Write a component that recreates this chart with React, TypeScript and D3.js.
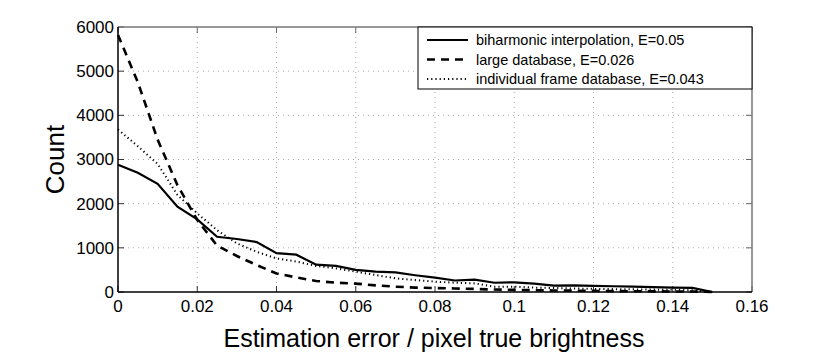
import React from "react";
import { scaleLinear, line } from "d3";

const xs = [
  0, 0.005, 0.01, 0.015, 0.02, 0.025, 0.03, 0.035, 0.04, 0.045, 0.05, 0.055,
  0.06, 0.065, 0.07, 0.075, 0.08, 0.085, 0.09, 0.095, 0.1, 0.105, 0.11, 0.115,
  0.12, 0.125, 0.13, 0.135, 0.14, 0.145, 0.15,
];

const biharmonic = [
  2880, 2700, 2450, 1930, 1645, 1250, 1200, 1130, 880, 845, 620, 590, 500, 460,
  445, 380, 325, 260, 280, 210, 220, 190, 145, 150, 140, 130, 120, 110, 100, 95,
  0,
];

const largeDb = [
  5820, 4750, 3450, 2420, 1630, 1050, 815, 610, 420, 330, 250, 210, 190, 150,
  120, 100, 90, 80, 70, 55, 50, 40, 35, 30, 25, 20, 18, 15, 12, 10, 0,
];

const frameDb = [
  3680, 3300, 2900, 2200, 1780, 1400, 1100, 910, 760, 690, 590, 535, 460, 385,
  310, 270, 235, 210, 195, 120, 120, 100, 90, 80, 70, 65, 60, 55, 50, 40, 0,
];

const xTicks = [0, 0.02, 0.04, 0.06, 0.08, 0.1, 0.12, 0.14, 0.16];
const yTicks = [0, 1000, 2000, 3000, 4000, 5000, 6000];

const series = [
  { name: "biharmonic interpolation, E=0.05", values: biharmonic, width: 2.2, dash: "none" },
  { name: "large database, E=0.026", values: largeDb, width: 2.6, dash: "8,6" },
  { name: "individual frame database, E=0.043", values: frameDb, width: 2, dash: "1.2,3" },
];

const App = () => {
  const width = 830;
  const height = 363;
  const margin = { top: 27, right: 78, bottom: 71, left: 118 };
  const innerWidth = width - margin.left - margin.right;
  const innerHeight = height - margin.top - margin.bottom;

  const xScale = scaleLinear().domain([0, 0.16]).range([0, innerWidth]);
  const yScale = scaleLinear().domain([0, 6000]).range([innerHeight, 0]);
  const font = "'Liberation Sans', Arial, Helvetica, sans-serif";

  const makeLine = (vals) =>
    line<number>()
      .x((_, i) => xScale(xs[i]))
      .y((d) => yScale(d))(vals);

  return (
    <svg
      width={width}
      height={height}
      style={{ position: "absolute", left: 0, top: 0, background: "#fff" }}
      fontFamily={font}
    >
      <g transform={`translate(${margin.left},${margin.top})`}>
        {/* grid */}
        {xTicks.slice(1, -1).map((t) => (
          <line
            key={"gx" + t}
            x1={xScale(t)}
            x2={xScale(t)}
            y1={0}
            y2={innerHeight}
            stroke="#aaa"
            strokeWidth={1}
            strokeDasharray="1,4"
          />
        ))}
        {yTicks.slice(1, -1).map((t) => (
          <line
            key={"gy" + t}
            x1={0}
            x2={innerWidth}
            y1={yScale(t)}
            y2={yScale(t)}
            stroke="#aaa"
            strokeWidth={1}
            strokeDasharray="1,4"
          />
        ))}
        {/* ticks */}
        {xTicks.map((t) => (
          <g key={"tx" + t} transform={`translate(${xScale(t)},0)`}>
            <line y1={innerHeight} y2={innerHeight - 6} stroke="#333" />
            <line y1={0} y2={6} stroke="#666" />
            <text
              y={innerHeight + 20}
              textAnchor="middle"
              fontSize={17}
              fill="#000"
            >
              {t}
            </text>
          </g>
        ))}
        {yTicks.map((t) => (
          <g key={"ty" + t} transform={`translate(0,${yScale(t)})`}>
            <line x1={0} x2={6} stroke="#333" />
            <line x1={innerWidth} x2={innerWidth - 6} stroke="#666" />
            <text x={-4} dy="0.35em" textAnchor="end" fontSize={17} fill="#000">
              {t}
            </text>
          </g>
        ))}
        {/* series */}
        {series.map((s) => (
          <path
            key={s.name}
            d={makeLine(s.values) || ""}
            fill="none"
            stroke="#000"
            strokeWidth={s.width}
            strokeDasharray={s.dash}
          />
        ))}
        {/* axes box */}
        <line x1={0} x2={innerWidth} y1={0} y2={0} stroke="#777" strokeWidth={1.5} />
        <line x1={innerWidth} x2={innerWidth} y1={0} y2={innerHeight} stroke="#777" strokeWidth={1.5} />
        <line x1={0} x2={0} y1={0} y2={innerHeight} stroke="#000" strokeWidth={1.5} />
        <line x1={0} x2={innerWidth} y1={innerHeight} y2={innerHeight} stroke="#000" strokeWidth={1.5} />
        {/* legend */}
        <g transform={`translate(${innerWidth - 334},0)`}>
          <rect x={0} y={0} width={334} height={62} fill="#fff" stroke="#000" strokeWidth={1} />
          {series.map((s, i) => (
            <g key={"lg" + s.name} transform={`translate(0,${13 + i * 19.5})`}>
              <line
                x1={9}
                x2={50}
                y1={0}
                y2={0}
                stroke="#000"
                strokeWidth={s.width}
                strokeDasharray={s.dash}
              />
              <text x={58} dy="0.35em" fontSize={14.5} fill="#000">
                {s.name}
              </text>
            </g>
          ))}
        </g>
      </g>
      <text
        transform={`translate(${margin.left + innerWidth / 2 - 1},${height - 16})`}
        textAnchor="middle"
        fontSize={25}
        fill="#000"
      >
        Estimation error / pixel true brightness
      </text>
      <text
        transform={`translate(64,${margin.top + innerHeight / 2}) rotate(-90)`}
        textAnchor="middle"
        fontSize={26}
        fill="#000"
      >
        Count
      </text>
    </svg>
  );
};

export default App;
